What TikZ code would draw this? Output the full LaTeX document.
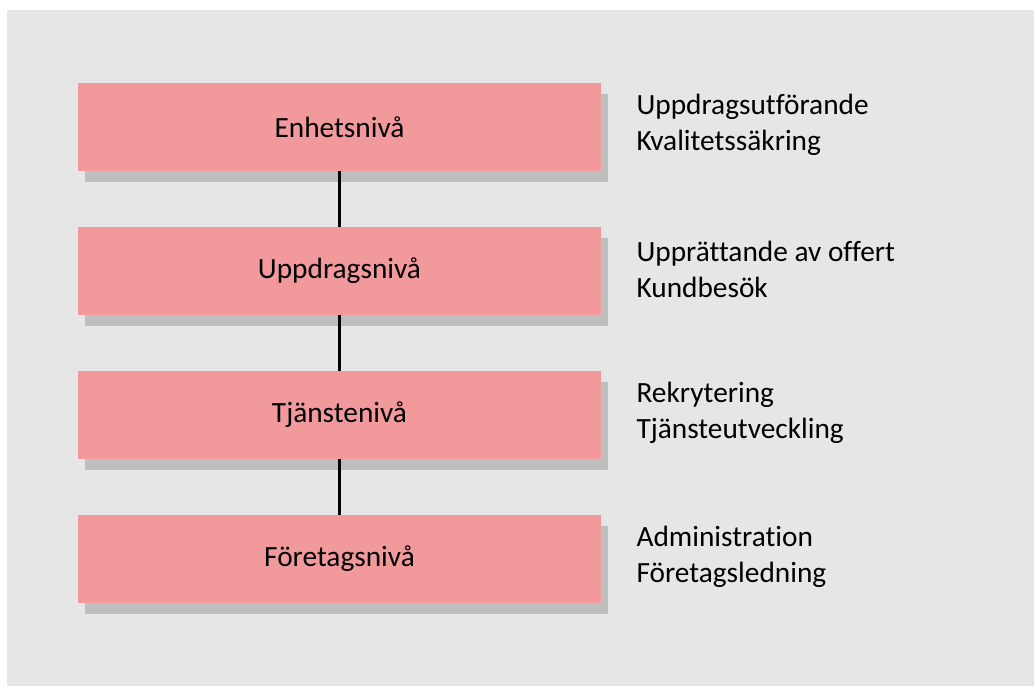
\documentclass[tikz,border=0pt]{standalone}
\usepackage{fontspec}
\setmainfont{Carlito}[Ligatures=NoCommon]
\usepackage{tikz}
\usetikzlibrary{positioning,shadows}
\definecolor{bg}{HTML}{E6E6E6}
\definecolor{pinkbox}{HTML}{F2999B}
\definecolor{shade}{HTML}{BEBEBE}

\begin{document}
\begin{tikzpicture}[x=0.75pt,y=0.75pt,
  level/.style={fill=pinkbox, minimum width=392.25pt, minimum height=66pt, inner sep=0pt,
    drop shadow={shadow xshift=5.25pt, shadow yshift=-8pt, fill=shade, opacity=1}},
  task/.style={right=26.25pt of #1, align=left, inner sep=0pt},
  link/.style={line width=1.7pt},
  node distance=41.6pt,
  every node/.style={font=\fontsize{22}{27}\selectfont}]
\useasboundingbox (0,0) rectangle (1034,686);
\fill[bg] (7,0) rectangle (1034,676);

\node[level] (enhet) at (339.5,559) {Enhetsnivå};
\node[level, below=of enhet] (uppdrag) {Uppdragsnivå};
\node[level, below=of uppdrag] (tjanst) {Tjänstenivå};
\node[level, below=of tjanst] (foretag) {Företagsnivå};

\draw[link] (enhet) -- (uppdrag);
\draw[link] (uppdrag) -- (tjanst);
\draw[link] (tjanst) -- (foretag);

\node[task=enhet, yshift=1.5pt] (enhet-txt) {Uppdragsutförande\\Kvalitetssäkring};
\node[task=uppdrag, yshift=1.5pt] (uppdrag-txt) {Upprättande av offert\\Kundbesök};
\node[task=tjanst, yshift=1.5pt] (tjanst-txt) {Rekrytering\\Tjänsteutveckling};
\node[task=foretag, yshift=1.5pt] (foretag-txt) {Administration\\Företagsledning};
\end{tikzpicture}
\end{document}
